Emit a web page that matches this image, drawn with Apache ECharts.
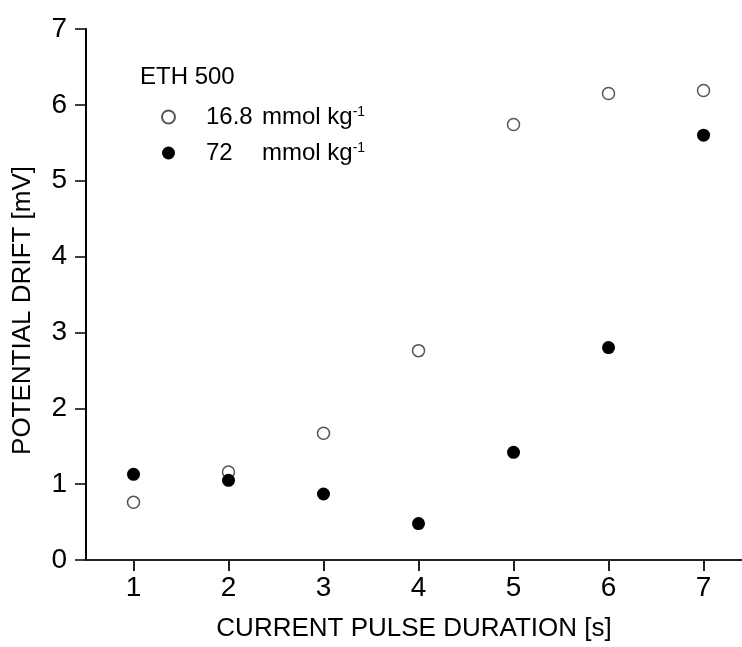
<!DOCTYPE html>
<html>
<head>
<meta charset="utf-8">
<script src="https://cdn.jsdelivr.net/npm/echarts@6/dist/echarts.min.js"></script>
<style>
html,body{margin:0;padding:0;background:#fff;}
#chart{width:742px;height:647px;}
</style>
</head>
<body>
<div id="chart"></div>
<script>
var durations = [1, 2, 3, 4, 5, 6, 7];
var drift168 = [0.76, 1.16, 1.67, 2.76, 5.74, 6.15, 6.19];
var drift72 = [1.13, 1.05, 0.87, 0.48, 1.42, 2.80, 5.60];
var xTicks = [1, 2, 3, 4, 5, 6, 7];
var seriesNames = ['16.8 mmol kg-1', '72 mmol kg-1'];
var legendTitle = 'ETH 500';

function pairs(xs, ys) { return xs.map(function (x, i) { return [x, ys[i]]; }); }

var font = 'Liberation Sans, Arial, sans-serif';
var chart = echarts.init(document.getElementById('chart'), null, {renderer: 'canvas'});
chart.setOption({
  animation: false,
  backgroundColor: '#fff',
  textStyle: {fontFamily: font},
  grid: {left: 86, right: 0, top: 29, bottom: 84},
  title: {
    text: legendTitle, left: 140, top: 65, padding: 0,
    textStyle: {fontSize: 24, fontWeight: 'normal', color: '#000', fontFamily: font}
  },
  legend: {
    orient: 'vertical', left: 161, top: 105, padding: 0, itemGap: 12,
    itemWidth: 13, itemHeight: 13,
    data: seriesNames,
    formatter: function (name) {
      var parts = name.split(' ');
      return '{n|' + parts[0] + '}{u|' + parts[1] + ' ' + parts[2].replace('-1', '') + '}{s|-1}';
    },
    textStyle: {
      padding: [0, 0, 0, 26], fontFamily: font, color: '#000', fontSize: 24, lineHeight: 24,
      rich: {
        n: {fontSize: 24, width: 56, fontFamily: font, color: '#000', lineHeight: 24},
        u: {fontSize: 24, fontFamily: font, color: '#000', lineHeight: 24},
        s: {fontSize: 14, fontFamily: font, color: '#000', verticalAlign: 'top', lineHeight: 14}
      }
    }
  },
  xAxis: {
    type: 'value', min: 0.5, max: 7.405,
    name: 'CURRENT PULSE DURATION [s]', nameLocation: 'middle', nameGap: 56,
    nameTextStyle: {fontSize: 26, color: '#000', fontFamily: font},
    splitLine: {show: false},
    axisLine: {show: true, onZero: false, lineStyle: {color: '#222', width: 2}},
    axisTick: {show: true, customValues: xTicks, length: 11, lineStyle: {color: '#222', width: 2}},
    axisLabel: {customValues: xTicks, margin: 14, fontSize: 28, color: '#000', fontFamily: font}
  },
  yAxis: {
    type: 'value', min: 0, max: 7, interval: 1,
    name: 'POTENTIAL DRIFT [mV]', nameLocation: 'middle', nameGap: 50,
    nameTextStyle: {fontSize: 26, color: '#000', fontFamily: font, padding: [0, 32, 0, 0]},
    splitLine: {show: false},
    axisLine: {show: true, lineStyle: {color: '#000', width: 2}},
    axisTick: {show: true, length: 11, lineStyle: {color: '#000', width: 1.5}},
    axisLabel: {margin: 19, fontSize: 28, color: '#000', fontFamily: font}
  },
  series: [
    {
      name: seriesNames[0], type: 'scatter', symbol: 'circle', symbolSize: 12,
      data: pairs(durations, drift168),
      itemStyle: {color: '#fff', borderColor: '#555', borderWidth: 1.5, opacity: 1}
    },
    {
      name: seriesNames[1], type: 'scatter', symbol: 'circle', symbolSize: 13,
      data: pairs(durations, drift72),
      itemStyle: {color: '#000', opacity: 1}
    }
  ]
});
</script>
</body>
</html>
